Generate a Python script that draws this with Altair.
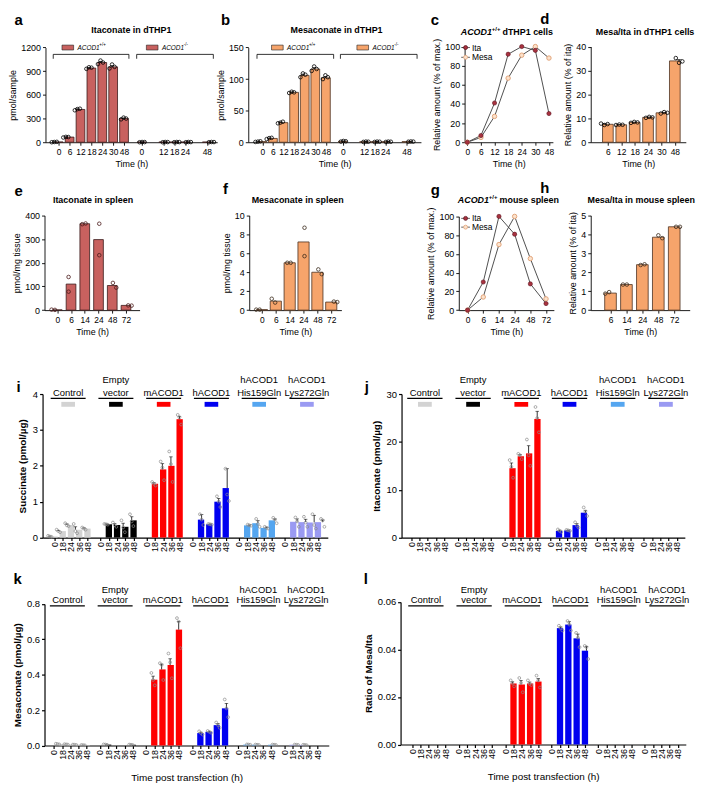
import altair as alt
import pandas as pd

FONT = "Liberation Sans"
W, H = 688, 770
SX = 688 / 703.0
SY = 770 / 782.0


def X(r):
    return round((r - 0.5) * SX, 2)


def Y(r):
    return round((r - 2.0) * SY, 2)


# ---------------- colours ----------------
ITA_FILL = "#C8615F"
ITA_EDGE = "#3a1c1c"
MESA_FILL = "#F6A46B"
MESA_EDGE = "#4d3322"
DOT_ITA = "#A8323F"
DOT_ITA_EDGE = "#5e1520"
DOT_MESA = "#FBE2CC"
DOT_MESA_EDGE = "#E2A47A"
LINE_COL = "#3c3c3c"

# ---------------- data: dTHP1 ----------------
t_dthp1 = ["0", "6", "12", "18", "24", "30", "48"]
t_ko = ["0", "12", "18", "24", "48"]
ita_wt_mean = [3, 65, 415, 940, 1010, 955, 300]
ita_wt_err = [2, 3, 8, 8, 15, 15, 8]
ita_wt_pts = [[0, 3, 5], [60, 68, 66], [405, 420, 425], [930, 950, 945],
              [990, 1035, 1010], [935, 985, 955], [290, 312, 300]]
ita_ko_mean = [2, 2, 2, 2, 2]
ita_ko_err = [1, 1, 1, 1, 1]
ita_ko_pts = [[0, 3, 2], [0, 3, 2], [0, 3, 2], [0, 3, 2], [0, 3, 2]]

mesa_wt_mean = [1, 6, 31, 79, 106, 116, 102]
mesa_wt_err = [0.3, 0.6, 0.8, 0.7, 2, 2, 2]
mesa_wt_pts = [[0.5, 1, 1.5], [5, 6.5, 7], [30, 31, 32.5], [78, 80, 79],
               [103, 109, 107], [113, 120, 116], [100, 106, 103]]
mesa_ko_mean = [1.5, 0.8, 0.8, 0.8, 1.0]
mesa_ko_err = [0.3, 0.2, 0.2, 0.2, 0.2]
mesa_ko_pts = [[1, 2, 1.5], [0.5, 1, 0.8], [0.5, 1, 0.8], [0.5, 1, 0.8], [0.8, 1.2, 1]]

rel_ita_dthp1 = [0, 7, 41, 92, 100, 96, 30]
rel_mesa_dthp1 = [0, 5, 27, 67, 91, 100, 88]

t_ratio_dthp1 = ["6", "12", "18", "24", "30", "48"]
ratio_dthp1_mean = [7.5, 7.3, 8.3, 10.4, 12.3, 34.0]
ratio_dthp1_err = [0.2, 0.1, 0.1, 0.15, 0.2, 0.6]
ratio_dthp1_pts = [[7.8, 7.2, 7.6], [7.2, 7.4, 7.3], [8.1, 8.5, 8.3], [10.2, 10.6, 10.4],
                   [12.0, 12.6, 12.3], [35.2, 33.2, 33.8]]

# ---------------- data: mouse spleen ----------------
t_spleen = ["0", "6", "14", "24", "48", "72"]
ita_spleen_mean = [1, 110, 365, 298, 104, 20]
ita_spleen_pts = [[2, 1], [140, 78], [363, 366], [365, 232], [115, 95], [20, 19]]
mesa_spleen_mean = [0.05, 0.95, 5.0, 7.2, 4.0, 0.85]
mesa_spleen_pts = [[0.05, 0.05], [1.2, 0.8], [5.0, 5.0], [8.7, 5.7], [4.3, 3.8], [0.9, 0.85]]
rel_ita_spleen = [0, 30, 100, 81, 28, 7]
rel_mesa_spleen = [0, 14, 70, 100, 55, 12]
t_ratio_spleen = ["6", "14", "24", "48", "72"]
ratio_spleen_mean = [0.9, 1.35, 2.4, 3.85, 4.4]
ratio_spleen_pts = [[0.87, 0.95], [1.35, 1.35], [2.38, 2.42], [3.95, 3.8], [4.4, 4.4]]

# ---------------- data: transfection ----------------
groups = ["Control", "Empty\nvector", "mACOD1", "hACOD1", "hACOD1\nHis159Gln", "hACOD1\nLys272Gln"]
group_colors = ["#D3D3D3", "#000000", "#FF0000", "#0000F0", "#55A6F0", "#9A9AF2"]
t_tf = ["0", "18", "24", "36", "48"]

succ_mean = [
    [0.03, 0.18, 0.35, 0.22, 0.25],
    [0.0, 0.37, 0.35, 0.30, 0.48],
    [0.0, 1.50, 1.90, 2.00, 3.30],
    [0.0, 0.50, 0.37, 1.00, 1.38],
    [0.0, 0.34, 0.40, 0.27, 0.48],
    [0.0, 0.44, 0.43, 0.42, 0.43],
]
succ_err = [
    [0.01, 0.02, 0.03, 0.08, 0.02],
    [0.0, 0.01, 0.04, 0.10, 0.10],
    [0.0, 0.03, 0.16, 0.25, 0.08],
    [0.0, 0.14, 0.01, 0.09, 0.54],
    [0.0, 0.01, 0.07, 0.02, 0.04],
    [0.0, 0.08, 0.08, 0.20, 0.06],
]
succ_pts = [
    [[0.05, 0.03, 0.02], [0.22, 0.18, 0.15], [0.40, 0.34, 0.32], [0.38, 0.18, 0.12], [0.28, 0.25, 0.22]],
    [[], [0.38, 0.37, 0.36], [0.42, 0.35, 0.30], [0.48, 0.28, 0.15], [0.65, 0.45, 0.32]],
    [[], [1.55, 1.50, 1.45], [2.12, 1.95, 1.60], [2.40, 2.05, 1.55], [3.42, 3.35, 3.15]],
    [[], [0.65, 0.50, 0.35], [0.38, 0.37, 0.36], [1.15, 1.00, 0.85], [1.92, 1.20, 1.02]],
    [[], [0.36, 0.34, 0.33], [0.52, 0.38, 0.30], [0.30, 0.27, 0.25], [0.55, 0.50, 0.40]],
    [[], [0.56, 0.45, 0.30], [0.58, 0.42, 0.30], [0.65, 0.35, 0.25], [0.52, 0.48, 0.30]],
]

ita_tf_mean = [
    [0, 0, 0, 0, 0],
    [0, 0, 0, 0, 0],
    [0, 14.5, 17.0, 17.6, 24.8],
    [0, 1.4, 1.5, 2.6, 5.2],
    [0, 0, 0, 0, 0],
    [0, 0, 0, 0, 0],
]
ita_tf_err = [
    [0, 0, 0, 0, 0],
    [0, 0, 0, 0, 0],
    [0, 1.1, 0.35, 1.6, 1.6],
    [0, 0.15, 0.06, 0.3, 0.5],
    [0, 0, 0, 0, 0],
    [0, 0, 0, 0, 0],
]
ita_tf_pts = [
    [[], [], [], [], []],
    [[], [], [], [], []],
    [[], [16.2, 14.8, 12.5], [17.5, 17.2, 16.4], [20.5, 17.2, 15.0], [27.3, 25.0, 22.0]],
    [[], [1.7, 1.4, 1.2], [1.6, 1.5, 1.4], [3.2, 2.5, 2.1], [6.3, 5.4, 4.5]],
    [[], [], [], [], []],
    [[], [], [], [], []],
]

mesa_tf_mean = [
    [0, 0.008, 0.006, 0.004, 0.002],
    [0, 0.005, 0, 0, 0.004],
    [0, 0.372, 0.430, 0.455, 0.655],
    [0, 0.070, 0.077, 0.115, 0.210],
    [0, 0.005, 0.004, 0, 0.004],
    [0, 0.004, 0.003, 0, 0],
]
mesa_tf_err = [
    [0, 0, 0, 0, 0],
    [0, 0, 0, 0, 0],
    [0, 0.02, 0.03, 0.035, 0.045],
    [0, 0.005, 0.003, 0.01, 0.028],
    [0, 0, 0, 0, 0],
    [0, 0, 0, 0, 0],
]
mesa_tf_pts = [
    [[], [0.010, 0.008, 0.006], [0.007, 0.006, 0.005], [0.005, 0.004, 0.003], [0.003, 0.002, 0.001]],
    [[], [0.006, 0.005, 0.004], [], [], [0.005, 0.004, 0.003]],
    [[], [0.41, 0.37, 0.34], [0.465, 0.455, 0.37], [0.52, 0.47, 0.38], [0.72, 0.70, 0.55]],
    [[], [0.08, 0.07, 0.062], [0.082, 0.077, 0.072], [0.13, 0.115, 0.10], [0.26, 0.21, 0.16]],
    [[], [0.006, 0.005, 0.004], [0.005, 0.004, 0.003], [], [0.005, 0.004, 0.003]],
    [[], [0.005, 0.004, 0.003], [0.004, 0.003, 0.002], [], []],
]

ratio_tf_mean = [
    [0, 0, 0, 0, 0],
    [0, 0, 0, 0, 0],
    [0, 0.0257, 0.0253, 0.0257, 0.0265],
    [0, 0.0490, 0.0505, 0.0447, 0.0395],
    [0, 0, 0, 0, 0],
    [0, 0, 0, 0, 0],
]
ratio_tf_err = [
    [0, 0, 0, 0, 0],
    [0, 0, 0, 0, 0],
    [0, 0.0007, 0.0017, 0.0006, 0.0013],
    [0, 0.0005, 0.0012, 0.0018, 0.0018],
    [0, 0, 0, 0, 0],
    [0, 0, 0, 0, 0],
]
ratio_tf_pts = [
    [[], [], [], [], []],
    [[], [], [], [], []],
    [[], [0.027, 0.0258, 0.0245], [0.028, 0.026, 0.022], [0.027, 0.0255, 0.025], [0.029, 0.027, 0.024]],
    [[], [0.050, 0.049, 0.048], [0.052, 0.0505, 0.048], [0.047, 0.045, 0.041], [0.0415, 0.041, 0.036]],
    [[], [], [], [], []],
    [[], [], [], [], []],
]


# ---------------- helpers ----------------
def xscale(r0, r1, dom):
    return alt.Scale(domain=dom, range=[X(r0), X(r1)], nice=False, zero=False)


def yscale(top, bot, dom):
    return alt.Scale(domain=dom, range=[Y(bot), Y(top)], nice=False, zero=False)


def yaxis(xr, title, values, fmt=None, fs=9, tfs=9, bold=False, tp=3, dw=0.9):
    kw = dict(orient="left", offset=-X(xr), title=title, values=values, grid=False,
              tickSize=3, tickWidth=dw, domainWidth=dw, tickColor="black", domainColor="black",
              labelColor="black", titleColor="black", labelFontSize=fs, titleFontSize=tfs,
              labelPadding=2, titlePadding=tp, labelFont=FONT, titleFont=FONT,
              labelOverlap=False, titleFontWeight="bold" if bold else "normal")
    if fmt:
        kw["format"] = fmt
    return alt.Axis(**kw)


def xaxis(yr, values, expr, title=None, fs=8.5, tfs=9, angle=0, tp=4, lp=2, dw=0.9):
    kw = dict(orient="bottom", offset=round(Y(yr) - H, 2), values=values, labelExpr=expr,
              grid=False, tickSize=3, tickWidth=dw, domainWidth=dw, tickColor="black",
              domainColor="black", labelColor="black", titleColor="black", labelFontSize=fs,
              titleFontSize=tfs, labelPadding=lp, titlePadding=tp, labelFont=FONT, titleFont=FONT,
              labelFlush=False, labelOverlap=False, labelAngle=angle, titleFontWeight="normal",
              title=title)
    return alt.Axis(**kw)


def arr_expr(labels):
    return "[" + ",".join("'" + s + "'" for s in labels) + "][round(datum.value)]"


def jitter(vals, span, tol):
    n = len(vals)
    if n == 3:
        return [-span, 0.0, span]
    if n == 2:
        return [-span / 2, span / 2] if abs(vals[0] - vals[1]) <= tol else [0.0, 0.0]
    return [0.0] * n


def bar_panel(pos, mean, err, pts, xs, ys, xax, yax, fill, edge, barw, span, tol,
              pt_size=13, pt_color="black", pt_w=0.8):
    dfb = pd.DataFrame({"pos": pos, "mean": mean})
    rows = []
    for p, vals in zip(pos, pts):
        for o, v in zip(jitter(vals, span, tol), vals):
            rows.append({"px": p + o, "v": v})
    dfp = pd.DataFrame(rows)
    layers = [
        alt.Chart(dfb).mark_bar(size=barw * SX, fill=fill, stroke=edge, strokeWidth=0.8).encode(
            x=alt.X("pos:Q", scale=xs, axis=xax),
            y=alt.Y("mean:Q", scale=ys, axis=yax),
            y2=alt.datum(0)),
    ]
    if err is not None:
        dfe = pd.DataFrame({"pos": pos, "mean": mean, "hi": [m + e for m, e in zip(mean, err)]})
        layers.append(alt.Chart(dfe).mark_rule(color="black", strokeWidth=0.8).encode(
            x=alt.X("pos:Q", scale=xs, axis=None), y=alt.Y("mean:Q", scale=ys, axis=None), y2="hi:Q"))
        layers.append(alt.Chart(dfe).mark_tick(orient="horizontal", size=barw * 0.45, thickness=0.8,
                                               color="black").encode(
            x=alt.X("pos:Q", scale=xs, axis=None), y=alt.Y("hi:Q", scale=ys, axis=None)))
    layers.append(alt.Chart(dfp).mark_point(shape="circle", filled=False, size=pt_size, color=pt_color,
                                            strokeWidth=pt_w, opacity=1).encode(
        x=alt.X("px:Q", scale=xs, axis=None), y=alt.Y("v:Q", scale=ys, axis=None)))
    return layers


def line_panel(n, ita, mesa, xs, ys, xax, yax):
    df = pd.DataFrame({"pos": list(range(n)) * 2, "v": ita + mesa, "s": ["Ita"] * n + ["Mesa"] * n})
    lines = alt.Chart(df).mark_line(color=LINE_COL, strokeWidth=0.9).encode(
        x=alt.X("pos:Q", scale=xs, axis=xax), y=alt.Y("v:Q", scale=ys, axis=yax), detail="s:N")
    pm = alt.Chart(df).transform_filter("datum.s == 'Mesa'").mark_point(
        shape="circle", filled=True, size=20, fill=DOT_MESA, stroke=DOT_MESA_EDGE, strokeWidth=1,
        opacity=1).encode(x=alt.X("pos:Q", scale=xs, axis=None), y=alt.Y("v:Q", scale=ys, axis=None))
    pi = alt.Chart(df).transform_filter("datum.s == 'Ita'").mark_point(
        shape="circle", filled=True, size=18, fill=DOT_ITA, stroke=DOT_ITA_EDGE, strokeWidth=0.6,
        opacity=1).encode(x=alt.X("pos:Q", scale=xs, axis=None), y=alt.Y("v:Q", scale=ys, axis=None))
    return [lines, pm, pi]


STEP = 5.6
TF_EXPR = ("['0','18','24','36','48'][round(datum.value - floor(datum.value / 5.6 + 0.001) * 5.6)]")
TF_VALUES = [round(g * STEP + i, 3) for g in range(6) for i in range(5)]


def tf_panel(mean, err, pts, xs, ys, xax, yax, txt_y, line_y, lh, swatch):
    rows_b, rows_e, rows_p = [], [], []
    for g in range(6):
        for i in range(5):
            p = round(g * STEP + i, 3)
            rows_b.append({"pos": p, "mean": mean[g][i], "c": group_colors[g]})
            if err[g][i] > 0:
                rows_e.append({"pos": p, "mean": mean[g][i], "hi": mean[g][i] + err[g][i]})
            for o, v in zip(jitter(pts[g][i], 0.2, 0), pts[g][i]):
                rows_p.append({"px": p + o, "v": v})
    layers = [
        alt.Chart(pd.DataFrame(rows_b)).mark_bar(size=6.5 * SX).encode(
            x=alt.X("pos:Q", scale=xs, axis=xax), y=alt.Y("mean:Q", scale=ys, axis=yax),
            y2=alt.datum(0), fill=alt.Fill("c:N", scale=None)),
        alt.Chart(pd.DataFrame(rows_e)).mark_rule(color="black", strokeWidth=0.8).encode(
            x=alt.X("pos:Q", scale=xs, axis=None), y=alt.Y("mean:Q", scale=ys, axis=None), y2="hi:Q"),
        alt.Chart(pd.DataFrame(rows_e)).mark_tick(orient="horizontal", size=3.5, thickness=0.8,
                                                  color="black").encode(
            x=alt.X("pos:Q", scale=xs, axis=None), y=alt.Y("hi:Q", scale=ys, axis=None)),
        alt.Chart(pd.DataFrame(rows_p)).mark_point(shape="circle", filled=False, size=8, color="#8a8a8a",
                                                   strokeWidth=0.7, opacity=1).encode(
            x=alt.X("px:Q", scale=xs, axis=None), y=alt.Y("v:Q", scale=ys, axis=None)),
    ]
    parts = [s.split("\n") for s in groups]
    hdr = pd.DataFrame({
        "top": [p[0] if len(p) > 1 else "" for p in parts],
        "bot": [p[-1] for p in parts],
        "cx": [g * STEP + 2.15 for g in range(6)],
        "x0": [g * STEP + 0.1 for g in range(6)],
        "x1": [g * STEP + 4.2 for g in range(6)],
        "s0": [g * STEP + 1.35 for g in range(6)],
        "s1": [g * STEP + 2.95 for g in range(6)],
        "c": group_colors,
    })
    for fld, yy in (("bot", txt_y), ("top", txt_y - lh)):
        layers.append(alt.Chart(hdr).mark_text(fontSize=9.5, baseline="alphabetic", font=FONT,
                                               color="black").encode(
            x=alt.X("cx:Q", scale=xs, axis=None), y=alt.value(Y(yy)), text=f"{fld}:N"))
    layers.append(alt.Chart(hdr).mark_rule(color="black", strokeWidth=1.3).encode(
        x=alt.X("x0:Q", scale=xs, axis=None), x2="x1:Q", y=alt.value(Y(line_y))))
    if swatch:
        layers.append(alt.Chart(hdr).mark_rect().encode(
            x=alt.X("s0:Q", scale=xs, axis=None), x2="s1:Q",
            y=alt.value(Y(swatch[0])), y2=alt.value(Y(swatch[1])),
            fill=alt.Fill("c:N", scale=None)))
    return layers


def T(text, xr, yr, size=9, bold=False, italic=False, align="center", baseline="middle", color="black"):
    return alt.Chart(pd.DataFrame({"t": [text]})).mark_text(
        fontSize=size, fontWeight="bold" if bold else "normal",
        fontStyle="italic" if italic else "normal", align=align, baseline=baseline,
        color=color, font=FONT).encode(x=alt.value(X(xr)), y=alt.value(Y(yr)), text="t:N")


def R(x1, x2, y1, y2=None, color="black", w=0.8):
    enc = dict(x=alt.value(X(x1)), y=alt.value(Y(y1)))
    if x2 is not None:
        enc["x2"] = alt.value(X(x2))
    if y2 is not None:
        enc["y2"] = alt.value(Y(y2))
    return alt.Chart(pd.DataFrame({"d": [0]})).mark_rule(color=color, strokeWidth=w).encode(**enc)


def box(x1, x2, y1, y2, fill, stroke="#222222"):
    return alt.Chart(pd.DataFrame({"d": [0]})).mark_rect(fill=fill, stroke=stroke, strokeWidth=0.6).encode(
        x=alt.value(X(x1)), x2=alt.value(X(x2)), y=alt.value(Y(y1)), y2=alt.value(Y(y2)))


def dot(xr, yr, fill, stroke, size=16):
    return alt.Chart(pd.DataFrame({"d": [0]})).mark_point(
        shape="circle", filled=True, fill=fill, stroke=stroke, strokeWidth=0.8, size=size, opacity=1).encode(
        x=alt.value(X(xr)), y=alt.value(Y(yr)))


# ---------------- panels a & b ----------------
ko_offset = 7.6
ab_pos = list(range(7)) + [ko_offset + t_dthp1.index(t) for t in t_ko]
ab_ticks = ab_pos
ab_expr = arr_expr(t_dthp1 + [""] + t_dthp1)

pa = bar_panel(ab_pos, ita_wt_mean + ita_ko_mean, ita_wt_err + ita_ko_err, ita_wt_pts + ita_ko_pts,
               xscale(33, 210, [-0.76, 14.1]), yscale(35, 132, [0, 1200]),
               xaxis(132, ab_ticks, ab_expr, "Time (h)"),
               yaxis(33, "pmol/sample", [0, 300, 600, 900, 1200], fmt="d"),
               ITA_FILL, ITA_EDGE, 9, 0.22, 0)

pb = bar_panel(ab_pos, mesa_wt_mean + mesa_ko_mean, mesa_wt_err + mesa_ko_err, mesa_wt_pts + mesa_ko_pts,
               xscale(242, 420, [-0.86, 14.5]), yscale(35, 132, [0, 150]),
               xaxis(132, ab_ticks, ab_expr, "Time (h)"),
               yaxis(242, "pmol/sample", [0, 50, 100, 150]),
               MESA_FILL, MESA_EDGE, 9, 0.22, 0)

# ---------------- panel c ----------------
pc = line_panel(7, rel_ita_dthp1, rel_mesa_dthp1,
                xscale(465, 556, [-0.2, 6.29]), yscale(34, 132, [0, 100]),
                xaxis(132, list(range(7)), arr_expr(t_dthp1), "Time (h)"),
                yaxis(465, "Relative amount (% of max.)", [0, 20, 40, 60, 80, 100]))

# ---------------- panel d ----------------
pd_ = bar_panel(list(range(6)), ratio_dthp1_mean, ratio_dthp1_err, ratio_dthp1_pts,
                xscale(595, 693, [-0.91, 5.45]), yscale(34, 132, [0, 40]),
                xaxis(132, list(range(6)), arr_expr(t_ratio_dthp1), "Time (h)"),
                yaxis(595, "Relative amount (% of ita)", [0, 10, 20, 30, 40]),
                MESA_FILL, MESA_EDGE, 11, 0.22, 0)

# ---------------- panels e-h ----------------
pe = bar_panel(list(range(6)), ita_spleen_mean, None, ita_spleen_pts,
               xscale(32, 130, [-0.57, 5.63]), yscale(207, 304, [0, 400]),
               xaxis(304, list(range(6)), arr_expr(t_spleen), "Time (h)"),
               yaxis(32, "pmol/mg tissue", [0, 100, 200, 300, 400]),
               ITA_FILL, ITA_EDGE, 10, 0.22, 20, pt_color="#4a1a1a")

pf = bar_panel(list(range(6)), mesa_spleen_mean, None, mesa_spleen_pts,
               xscale(243, 338, [-0.56, 5.375]), yscale(207, 304, [0, 10]),
               xaxis(304, list(range(6)), arr_expr(t_spleen), "Time (h)"),
               yaxis(243, "pmol/mg tissue", [0, 2, 4, 6, 8, 10]),
               MESA_FILL, MESA_EDGE, 11.5, 0.22, 0.5, pt_color="#3a2a1a")

pg = line_panel(6, rel_ita_spleen, rel_mesa_spleen,
                xscale(459, 557, [-0.56, 5.5]), yscale(208, 304, [0, 100]),
                xaxis(304, list(range(6)), arr_expr(t_spleen), "Time (h)"),
                yaxis(459, "Relative amount (% of max.)", [0, 20, 40, 60, 80, 100]))

ph = bar_panel(list(range(5)), ratio_spleen_mean, None, ratio_spleen_pts,
               xscale(595, 697, [-0.93, 4.66]), yscale(207, 304, [0, 5]),
               xaxis(304, list(range(5)), arr_expr(t_ratio_spleen), "Time (h)"),
               yaxis(595, "Relative amount (% of ita)", [0, 1, 2, 3, 4, 5]),
               MESA_FILL, MESA_EDGE, 12, 0.22, 0.2, pt_color="#3a2a1a")

# ---------------- panels i-l ----------------
pi_ = tf_panel(succ_mean, succ_err, succ_pts,
               xscale(30, 324, [-0.85, 32.6]), yscale(390, 537, [0, 4]),
               xaxis(537, TF_VALUES, TF_EXPR, None, fs=9, angle=-90, lp=1, dw=1.2),
               yaxis(30, "Succinate (pmol/µg)", [0, 1, 2, 3, 4], fs=9.5, tfs=10, bold=True, tp=5, dw=1.2),
               391.5, 394.5, 12.5, (398, 403))

pj = tf_panel(ita_tf_mean, ita_tf_err, ita_tf_pts,
              xscale(400, 692, [-0.56, 32.35]), yscale(390, 537, [0, 30]),
              xaxis(537, TF_VALUES, TF_EXPR, None, fs=9, angle=-90, lp=1, dw=1.2),
              yaxis(400, "Itaconate (pmol/µg)", [0, 10, 20, 30], fs=9.5, tfs=10, bold=True, tp=5, dw=1.2),
              391.5, 394.5, 12.5, (398, 403))

pk = tf_panel(mesa_tf_mean, mesa_tf_err, mesa_tf_pts,
              xscale(32, 325, [-0.53, 32.8]), yscale(605, 750, [0, 0.8]),
              xaxis(750, TF_VALUES, TF_EXPR, "Time post transfection (h)", fs=9, angle=-90, lp=1, tp=13,
                    tfs=10, dw=1.2),
              yaxis(32, "Mesaconate (pmol/µg)", [0, 0.2, 0.4, 0.6, 0.8], fmt=".1f", fs=9.5, tfs=10,
                    bold=True, tp=4, dw=1.2),
              604.5, 607, 10.5, None)

pl = tf_panel(ratio_tf_mean, ratio_tf_err, ratio_tf_pts,
              xscale(399, 693, [-0.79, 32.34]), yscale(603, 749, [0, 0.06]),
              xaxis(749, TF_VALUES, TF_EXPR, "Time post transfection (h)", fs=9, angle=-90, lp=1, tp=13,
                    tfs=10, dw=1.2),
              yaxis(399, "Ratio of Mesa/Ita", [0, 0.02, 0.04, 0.06], fmt=".2f", fs=9.5, tfs=10,
                    bold=True, tp=4, dw=1.2),
              604.5, 607, 10.5, None)

# ---------------- annotations ----------------
annos = []
for lt, xr, yr in [("a", 1, 11.5), ("b", 214, 11.5), ("c", 430, 11.5), ("d", 543, 11),
                   ("e", 1, 187), ("f", 216, 185), ("g", 430, 186), ("h", 543, 184),
                   ("i", 3, 388), ("j", 362, 388), ("k", 0, 585), ("l", 361, 585)]:
    annos.append(T(lt, xr, yr, size=15, bold=True, align="left", baseline="alphabetic"))

annos += [
    T("Itaconate in dTHP1", 121.5, 17.5, bold=True),
    T("Mesaconate in dTHP1", 333, 17.5, bold=True),
    T("ACOD1", 461, 19.5, bold=True, italic=True, align="left"),
    T("+/+", 493, 16.5, size=6, bold=True, align="left"),
    T("dTHP1 cells", 504, 19.5, bold=True, align="left"),
    T("Mesa/Ita in dTHP1 cells", 651, 19.5, bold=True),
    T("Itaconate in spleen", 82, 191, bold=True),
    T("Mesaconate in spleen", 293, 191, bold=True),
    T("ACOD1", 458, 191, bold=True, italic=True, align="left"),
    T("+/+", 490, 188, size=6, bold=True, align="left"),
    T("mouse spleen", 501, 191, bold=True, align="left"),
    T("Mesa/Ita in mouse spleen", 647, 191, bold=True),
]

for (bx0, bx1, sx, fill, sup) in [(41, 119, 50, ITA_FILL, "+/+"), (127, 206, 137, ITA_FILL, "-/-"),
                                  (251, 330, 266, MESA_FILL, "+/+"), (337, 416, 354, MESA_FILL, "-/-")]:
    annos += [
        R(bx0, bx1, 42), R(bx0, None, 42, 46.5), R(bx1, None, 42, 46.5),
        box(sx, sx + 12, 32.5, 37.5, fill),
        T("ACOD1", sx + 16, 35, size=6.5, italic=True, align="left"),
        T(sup, sx + 38.5, 32.5, size=4.5, align="left"),
    ]

for (yi, ym) in [(35, 45), (210, 219)]:
    annos += [
        R(461.5, 470.5, yi, color=LINE_COL), dot(466, yi, DOT_ITA, DOT_ITA_EDGE),
        T("Ita", 472.5, yi, size=8.5, align="left"),
        R(461.5, 470.5, ym, color=LINE_COL), dot(466, ym, DOT_MESA, DOT_MESA_EDGE),
        T("Mesa", 472.5, ym, size=8.5, align="left"),
    ]

all_layers = pa + pb + pc + pd_ + pe + pf + pg + ph + pi_ + pj + pk + pl + annos
chart = alt.layer(*all_layers).resolve_scale(
    x="independent", y="independent").resolve_axis(x="independent", y="independent").properties(
    width=W, height=H, padding=0)
chart = chart.configure(font=FONT).configure_view(stroke=None)
chart.save("out.html", embed_options={"renderer": "svg", "actions": False})
